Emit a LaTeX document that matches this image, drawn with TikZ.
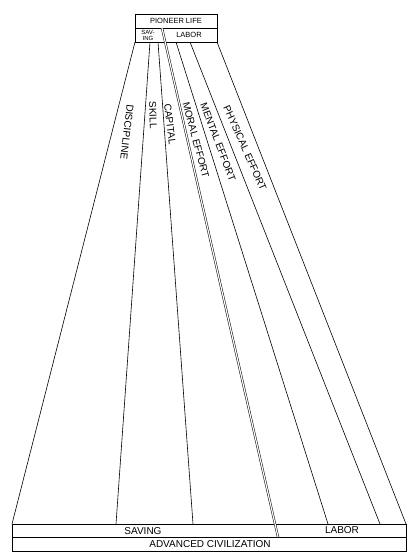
\documentclass[tikz,border=0pt]{standalone}
\usepackage{fontspec}
\newfontfamily\lblfont{Liberation Sans}
\usetikzlibrary{calc}

\begin{document}
\begin{tikzpicture}[x=1pt,y=-1pt,auto=left,
		bandlabel/.style={font=\lblfont\fontsize{10}{12}\selectfont,inner sep=0pt},
		smalllabel/.style={font=\lblfont\fontsize{7.5}{8}\selectfont,inner sep=0pt},
		edge/.style={black,line width=0.6pt},
		frame/.style={black,line width=0.8pt}]
			\useasboundingbox (0,0) rectangle (414,559);
			% top of the bands
			\coordinate (t0) at (135,42);
			\coordinate (t1) at (150,42);
			\coordinate (t2) at (158,42);
			\coordinate (t3) at (162,28);
			\coordinate (t4) at (176,42);
			\coordinate (t5) at (190,42);
			\coordinate (t6) at (217,42);
			% bottom of the bands
			\coordinate (b0) at (12,524);
			\coordinate (b1) at (116,524);
			\coordinate (b2) at (193,524);
			\coordinate (b3) at (278,537);
			\coordinate (b4) at (328,524);
			\coordinate (b5) at (380,524);
			\coordinate (b6) at (406,524);
			% boxes
			\draw [frame] (135,14) rectangle (217,42);
			\draw [frame] (135,28) -- (217,28);
			\draw [frame] (12,524) rectangle (406,551);
			\draw [frame] (12,537) -- (406,537);
			\node [smalllabel] (pioneer) at (176,21) {PIONEER LIFE};
			\node [smalllabel] (labortop) at (189,35) {LABOR};
			\node [smalllabel,font=\lblfont\fontsize{6}{6}\selectfont,align=center] (savtop) at (148,35) {SAV-\\ING};
			\node [bandlabel] (saving) at (143,531) {SAVING};
			\node [bandlabel] (labor) at (342,530.5) {LABOR};
			\node [bandlabel] (advanced) at (210,544) {ADVANCED CIVILIZATION};
			% bands
			\foreach \from/\to in {t0/b0, t1/b1, t2/b2, t4/b4, t5/b5, t6/b6}
				\draw [edge] (\from) -- (\to);
			\draw [edge,line width=0.5pt,double,double distance=1.2pt] (t3) -- (b3);
			% band labels
			\node [bandlabel,rotate=-97] (discipline) at (127,132) {DISCIPLINE};
			\node [bandlabel,rotate=-88] (skill) at (153,115) {SKILL};
			\node [bandlabel,rotate=-83] (capital) at (170,124) {CAPITAL};
			\node [bandlabel,rotate=-75] (moral) at (196,140) {MORAL EFFORT};
			\node [bandlabel,rotate=-69] (mental) at (218,142) {MENTAL EFFORT};
			\node [bandlabel,rotate=-66] (physical) at (245,148) {PHYSICAL EFFORT};
		\end{tikzpicture}
\end{document}
